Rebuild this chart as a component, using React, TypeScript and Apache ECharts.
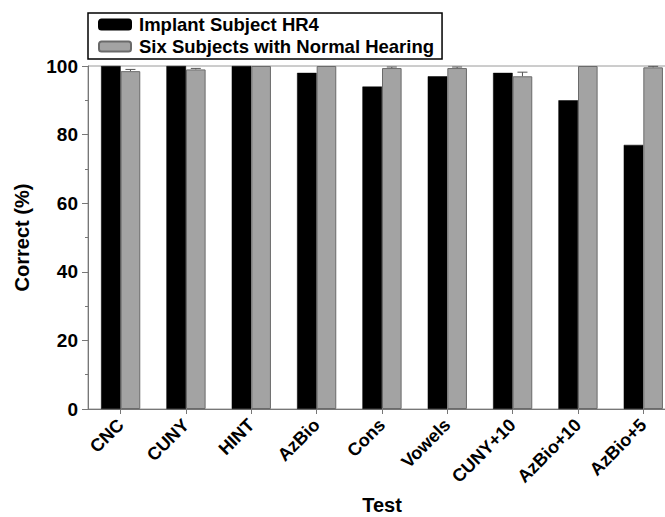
import React, { useEffect, useRef } from "react";
import * as echarts from "echarts";

const categories = ["CNC", "CUNY", "HINT", "AzBio", "Cons", "Vowels", "CUNY+10", "AzBio+10", "AzBio+5"];
const implantValues = [100, 100, 100, 98, 94, 97, 98, 90, 77];
const normalValues = [98.5, 99.0, 100, 100, 99.4, 99.4, 97.0, 100, 99.6];
const normalErrors = [0.5, 0.3, 0, 0, 0.3, 0.3, 1.2, 0, 0.3];
const yTicks = [0, 20, 40, 60, 80, 100];

const FONT = "'Liberation Sans', Arial, Helvetica, sans-serif";

export default function App() {
  const ref = useRef<HTMLDivElement>(null);
  useEffect(() => {
    document.body.style.margin = "0";
    const chart = echarts.init(ref.current!, undefined, { renderer: "svg" });
    const errData = categories.map((_, i) => [i, normalValues[i], normalErrors[i]]);
    chart.setOption({
      animation: false,
      backgroundColor: "#fff",
      textStyle: { fontFamily: FONT },
      grid: {
        left: 88,
        top: 66,
        width: 588,
        height: 343,
        outerBoundsMode: "none",
        containLabel: false,
        show: true,
        borderColor: "#9a9a9a",
        borderWidth: 1,
      },
      legend: {
        left: 88,
        top: 13,
        orient: "vertical",
        itemWidth: 32,
        itemHeight: 10,
        itemGap: 3,
        padding: [2, 8, 3, 10],
        borderColor: "#000",
        borderWidth: 1.5,
        data: ["Implant Subject HR4", "Six Subjects with Normal Hearing"],
        textStyle: {
          fontFamily: FONT,
          fontWeight: "bold",
          fontSize: 18.5,
          color: "#000",
          lineHeight: 19,
          padding: [0, 0, 0, 3],
        },
      },
      xAxis: {
        type: "category",
        data: categories,
        name: "Test",
        nameLocation: "middle",
        nameGap: 86,
        nameTextStyle: {
          fontFamily: FONT,
          fontWeight: "bold",
          fontSize: 20,
          color: "#000",
        },
        axisLine: { show: true, lineStyle: { color: "#777", width: 1 } },
        axisTick: { show: true, alignWithLabel: true, length: 5, lineStyle: { color: "#777" } },
        axisLabel: {
          rotate: 45,
          interval: 0,
          margin: 13,
          fontFamily: FONT,
          fontWeight: "bold",
          fontSize: 18,
          color: "#000",
        },
        splitLine: { show: false },
      },
      yAxis: {
        type: "value",
        min: 0,
        max: 100,
        interval: 20,
        name: "Correct (%)",
        nameLocation: "middle",
        nameGap: 56,
        nameTextStyle: {
          fontFamily: FONT,
          fontWeight: "bold",
          fontSize: 20,
          color: "#000",
        },
        axisLine: { show: true, lineStyle: { color: "#777", width: 1 } },
        axisTick: { show: true, length: 6, lineStyle: { color: "#777" } },
        minorTick: { show: true, splitNumber: 2, length: 3, lineStyle: { color: "#777" } },
        axisLabel: {
          margin: 10,
          fontFamily: FONT,
          fontWeight: "bold",
          fontSize: 19,
          color: "#000",
          formatter: (v: number) => (yTicks.includes(v) ? String(v) : ""),
        },
        splitLine: { show: false },
      },
      series: [
        {
          name: "Implant Subject HR4",
          type: "bar",
          data: implantValues,
          barWidth: "30%",
          barGap: "0%",
          itemStyle: { color: "#000", borderColor: "#000", borderWidth: 0.5 },
        },
        {
          name: "Six Subjects with Normal Hearing",
          type: "bar",
          data: normalValues,
          barWidth: "30%",
          barGap: "0%",
          itemStyle: { color: "#a3a3a3", borderColor: "#6a6a6a", borderWidth: 1 },
        },
        {
          name: "errors",
          type: "custom",
          data: errData,
          z: 10,
          encode: { x: 0, y: 1 },
          renderItem: (params: any, api: any) => {
            const idx = api.value(0);
            const v = api.value(1);
            const e = api.value(2);
            if (!e) return null;
            const band = api.size([1, 0])[0];
            const off = band * 0.15;
            const top = api.coord([idx, v + e]);
            const mid = api.coord([idx, v]);
            const x = top[0] + off;
            const cap = 5;
            const style = { stroke: "#555", lineWidth: 1 };
            return {
              type: "group",
              children: [
                { type: "line", shape: { x1: x, y1: mid[1], x2: x, y2: top[1] }, style },
                { type: "line", shape: { x1: x - cap, y1: top[1], x2: x + cap, y2: top[1] }, style },
              ],
            };
          },
        },
      ],
    });
    return () => chart.dispose();
  }, []);
  return <div ref={ref} style={{ position: "fixed", left: 0, top: 0, width: 665, height: 517 }} />;
}
